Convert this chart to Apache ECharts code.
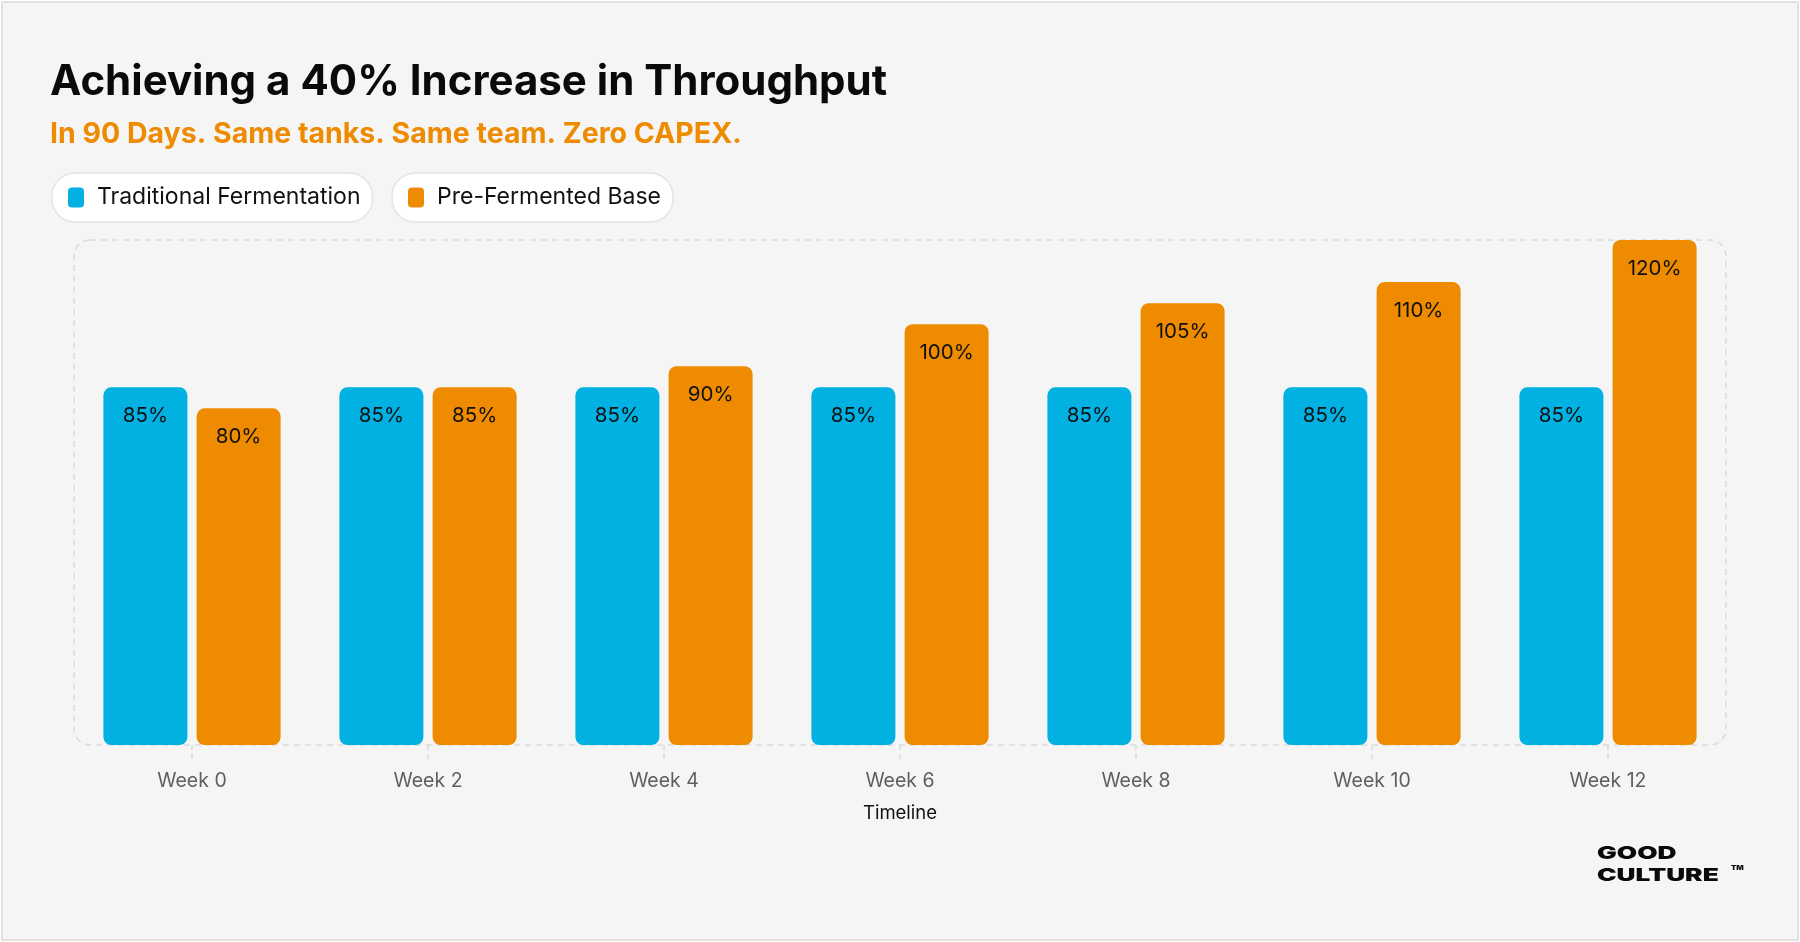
<!DOCTYPE html>
<html>
<head>
<meta charset="utf-8">
<script src="https://cdn.jsdelivr.net/npm/echarts@6/dist/echarts.min.js"></script>
<style>
  html, body { margin: 0; padding: 0; background: #ffffff; }
  #chart { width: 1800px; height: 942px; }
</style>
</head>
<body>
<div id="chart"></div>
<script>
const categories = ['Week 0', 'Week 2', 'Week 4', 'Week 6', 'Week 8', 'Week 10', 'Week 12'];
const traditional = [85, 85, 85, 85, 85, 85, 85];
const preFermented = [80, 85, 90, 100, 105, 110, 120];
const seriesNames = ['Traditional Fermentation', 'Pre-Fermented Base'];
const titleText = 'Achieving a 40% Increase in Throughput';
const subtitleText = 'In 90 Days. Same tanks. Same team. Zero CAPEX.';
const axisName = 'Timeline';

const BLUE = '#00B1E2';
const ORANGE = '#EE8B00';
const FONT = 'Inter';

const W = 1800, H = 942;
const G = { left: 74, right: 74, top: 240, bottom: 197 };

const chart = echarts.init(document.getElementById('chart'), null, { renderer: 'canvas' });

function legendPill(name, left) {
  return {
    data: [name],
    left: left,
    top: 173,
    orient: 'horizontal',
    backgroundColor: '#ffffff',
    borderColor: '#e4e4e4',
    borderWidth: 1.5,
    borderRadius: 23,
    padding: [13, 12, 13, 16],
    itemWidth: 16,
    itemHeight: 20,
    icon: 'roundRect',
    selectedMode: false,
    textStyle: { fontFamily: FONT, fontSize: 23, color: '#111111', padding: [0, 0, 0, 8] }
  };
}

const option = {
  backgroundColor: '#ffffff',
  animation: false,
  title: [
    { text: titleText, left: 50, top: 61, padding: 0,
      textStyle: { fontFamily: FONT, fontSize: 42, fontWeight: 700, color: '#0a0a0a' } },
    { text: subtitleText, left: 50, top: 120, padding: 0,
      textStyle: { fontFamily: FONT, fontSize: 28.5, fontWeight: 700, color: ORANGE } }
  ],
  legend: [legendPill(seriesNames[0], 52), legendPill(seriesNames[1], 392)],
  grid: { left: G.left, right: G.right, top: G.top, bottom: G.bottom, containLabel: false },
  xAxis: {
    type: 'category',
    data: categories,
    name: axisName,
    nameLocation: 'middle',
    nameGap: 59,
    nameTextStyle: { fontFamily: FONT, fontSize: 18.5, color: '#111111' },
    axisLine: { show: false },
    axisTick: { show: true, alignWithLabel: true, length: 16,
      lineStyle: { color: '#d9d9d9', width: 1.5, type: [5, 4] } },
    axisLabel: { margin: 26, fontFamily: FONT, fontSize: 19.5, color: '#5f5f5f' },
    splitLine: { show: false }
  },
  yAxis: { type: 'value', min: 0, max: 120, show: false, splitLine: { show: false } },
  series: [
    {
      name: seriesNames[0], type: 'bar', data: traditional,
      barWidth: 84, barGap: '11%',
      itemStyle: { color: BLUE, borderRadius: 8 },
      label: { show: true, position: 'insideTop', distance: 18, formatter: '{c}%',
        fontFamily: FONT, fontSize: 20.5, color: '#111111' },
      z: 3
    },
    {
      name: seriesNames[1], type: 'bar', data: preFermented,
      barWidth: 84,
      itemStyle: { color: ORANGE, borderRadius: 8 },
      label: { show: true, position: 'insideTop', distance: 18, formatter: '{c}%',
        fontFamily: FONT, fontSize: 20.5, color: '#111111' },
      z: 3
    }
  ],
  graphic: [
    { type: 'rect', silent: true, z: -20,
      shape: { x: 2, y: 2, width: W - 4, height: H - 4 },
      style: { fill: '#f5f5f5', stroke: '#e2e2e2', lineWidth: 2 } },
    { type: 'rect', silent: true, z: -10,
      shape: { x: G.left, y: G.top, width: W - G.left - G.right, height: H - G.top - G.bottom, r: 16 },
      style: { fill: 'none', stroke: '#dadada', lineWidth: 1.5, lineDash: [6, 5] } },
    { type: 'text', silent: true, x: 1597, y: 845, scaleX: 1.5,
      style: { text: 'GOOD', fontFamily: FONT, fontSize: 17.5, fontWeight: 900, fill: '#0a0a0a' } },
    { type: 'text', silent: true, x: 1597, y: 867, scaleX: 1.5,
      style: { text: 'CULTURE', fontFamily: FONT, fontSize: 17.5, fontWeight: 900, fill: '#0a0a0a' } },
    { type: 'text', silent: true, x: 1731, y: 865, scaleX: 1.3,
      style: { text: 'TM', fontFamily: FONT, fontSize: 6, fontWeight: 900, fill: '#0a0a0a' } }
  ]
};

chart.setOption(option);
</script>
</body>
</html>
